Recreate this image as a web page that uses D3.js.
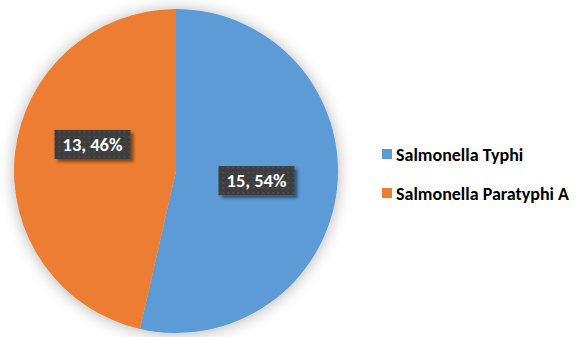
<!DOCTYPE html>
<html>
<head>
<meta charset="utf-8">
<script src="https://cdn.jsdelivr.net/npm/d3@7"></script>
<style>
  html, body { margin: 0; padding: 0; background: #fff; }
  svg { display: block; font-family: Carlito, Calibri, "Open Sans", sans-serif; }
</style>
</head>
<body>
<div id="chart"></div>
<script>
// data
const categories = ["Salmonella Typhi", "Salmonella Paratyphi A"];
const counts = [15, 13];
const percents = ["54%", "46%"];
const colors = ["#5B9BD5", "#ED7D31"];

const width = 577, height = 337;
const cx = 176, cy = 171, radius = 162;

const svg = d3.select("#chart").append("svg")
    .attr("width", width)
    .attr("height", height);

const defs = svg.append("defs");

// soft shadow around the pie
const pieShadow = defs.append("filter").attr("id", "pieShadow")
    .attr("x", "-20%").attr("y", "-20%").attr("width", "140%").attr("height", "140%");
pieShadow.append("feGaussianBlur").attr("in", "SourceAlpha").attr("stdDeviation", 8);
pieShadow.append("feOffset").attr("dx", 0).attr("dy", 1).attr("result", "b");
pieShadow.append("feComponentTransfer").append("feFuncA").attr("type", "linear").attr("slope", 0.3);
const pm = pieShadow.append("feMerge");
pm.append("feMergeNode");
pm.append("feMergeNode").attr("in", "SourceGraphic");

// label box shadow
const boxShadow = defs.append("filter").attr("id", "boxShadow")
    .attr("x", "-20%").attr("y", "-20%").attr("width", "150%").attr("height", "160%");
boxShadow.append("feGaussianBlur").attr("in", "SourceAlpha").attr("stdDeviation", 1.5);
boxShadow.append("feOffset").attr("dx", 3).attr("dy", 3);
boxShadow.append("feComponentTransfer").append("feFuncA").attr("type", "linear").attr("slope", 0.45);
const bm = boxShadow.append("feMerge");
bm.append("feMergeNode");
bm.append("feMergeNode").attr("in", "SourceGraphic");

// dotted texture for label boxes
const pat = defs.append("pattern").attr("id", "dots")
    .attr("patternUnits", "userSpaceOnUse").attr("width", 5).attr("height", 5);
pat.append("rect").attr("width", 5).attr("height", 5).attr("fill", "#3d3d3d");
pat.append("rect").attr("x", 1).attr("y", 1).attr("width", 1.5).attr("height", 1.5).attr("fill", "#555");

const pie = d3.pie().sort(null).value(d => d)(counts);
const arc = d3.arc().innerRadius(0).outerRadius(radius);
const labelArc = d3.arc().innerRadius(radius * 0.5).outerRadius(radius * 0.5);

const g = svg.append("g").attr("transform", `translate(${cx},${cy})`);

g.append("g").attr("filter", "url(#pieShadow)")
  .selectAll("path")
  .data(pie)
  .join("path")
    .attr("d", arc)
    .attr("fill", (d, i) => colors[i]);

// label placement nudges (Excel best-fit)
const nudge = [[0, 1], [-3, -17]];

const lab = g.selectAll("g.lab")
  .data(pie)
  .join("g")
    .attr("class", "lab")
    .attr("transform", (d, i) => {
      const c = labelArc.centroid(d);
      return `translate(${c[0] + nudge[i][0]},${c[1] + nudge[i][1]})`;
    });

lab.append("rect")
    .attr("x", -38).attr("y", -15)
    .attr("width", 76).attr("height", 29)
    .attr("fill", "url(#dots)")
    .attr("filter", "url(#boxShadow)");

lab.append("text")
    .attr("text-anchor", "middle")
    .attr("y", 0)
    .attr("dy", "0.33em")
    .attr("fill", "#fff")
    .attr("font-size", "18.5px")
    .attr("font-weight", "bold")
    .text((d, i) => `${counts[i]}, ${percents[i]}`);

// legend
const legend = svg.append("g").attr("transform", "translate(382,149)");
const item = legend.selectAll("g")
  .data(categories)
  .join("g")
    .attr("transform", (d, i) => `translate(0,${i * 39})`);

item.append("rect")
    .attr("width", 10).attr("height", 10)
    .attr("fill", (d, i) => colors[i]);

item.append("text")
    .attr("x", 14).attr("y", 12)
    .attr("fill", "#000")
    .attr("font-size", "18px")
    .attr("font-weight", "bold")
    .text(d => d);
</script>
</body>
</html>
